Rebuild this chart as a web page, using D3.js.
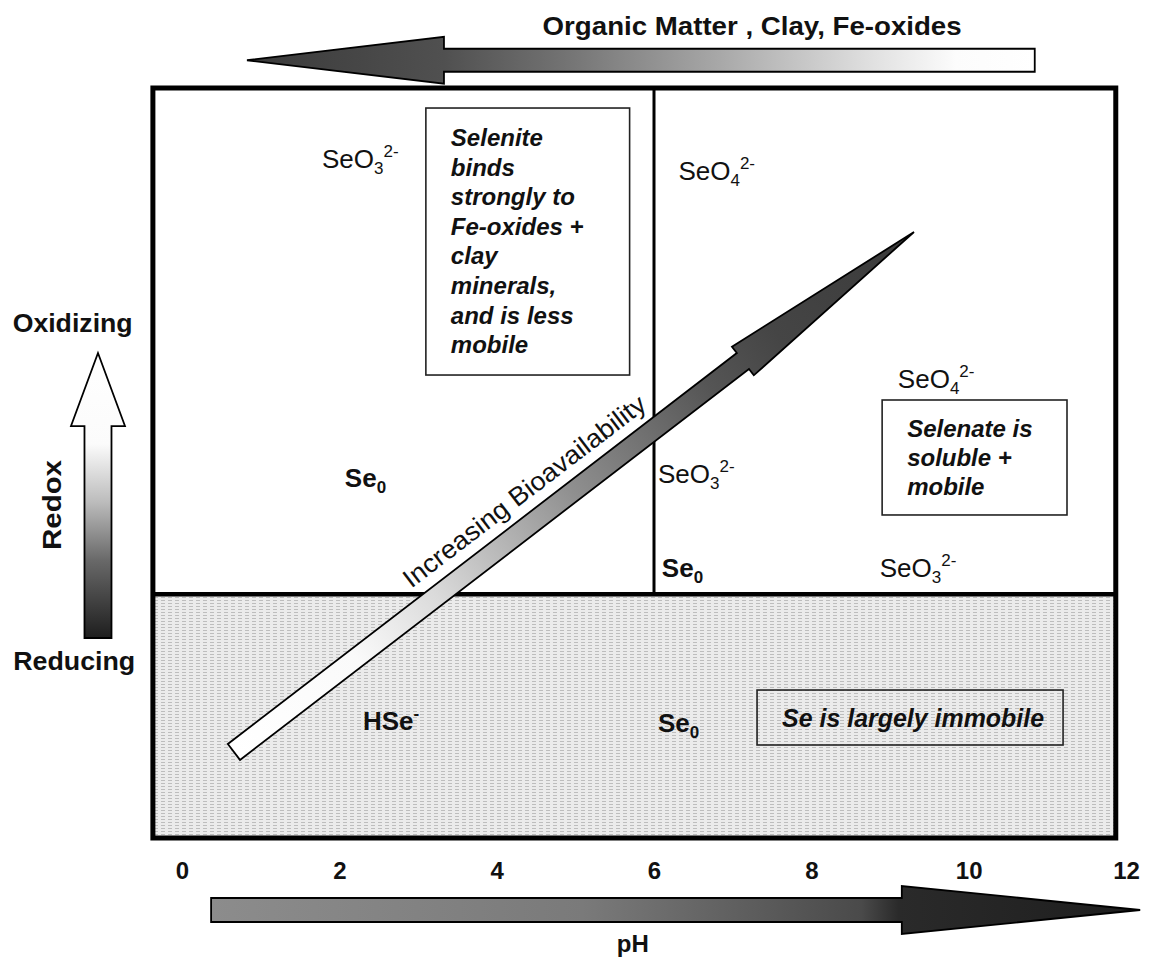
<!DOCTYPE html>
<html><head><meta charset="utf-8">
<script src="https://cdn.jsdelivr.net/npm/d3@7"></script>
<style>
html,body{margin:0;padding:0;background:#fff;}
svg text{font-family:"Liberation Sans",Arial,Helvetica,sans-serif;fill:#111;}
</style></head><body>
<svg id="chart" width="1153" height="957"></svg>
<script>
// ---------- data (pH on x, relative redox level 0-100 on y) ----------
const phTicks = [0, 2, 4, 6, 8, 10, 12];
const phDomain = [0, 12];
const redoxDomain = [0, 100];
const frameX = [-0.37, 11.87];
const frameY = [0, 100];
const dividerPH = 6;
const boundaryRedox = 32.5;
const tickRedox = -5.47;

// species labels
const speciesBase  = ["SeO", "SeO", "SeO", "Se", "SeO", "Se", "SeO", "HSe", "Se"];
const speciesSub   = ["3", "4", "4", "0", "3", "0", "3", "", "0"];
const speciesSup   = ["2-", "2-", "2-", "", "2-", "", "2-", "-", ""];
const speciesPH    = [1.78, 6.31, 9.10, 2.07, 6.05, 6.10, 8.87, 2.30, 6.05];
const speciesRedox = [89.4, 87.7, 60.0, 46.8, 47.3, 34.8, 34.8, 14.4, 14.1];
const speciesBold  = [false, false, false, true, false, true, false, true, true];

// note boxes
const noteLines = [
  ["Selenite", "binds", "strongly to", "Fe-oxides +", "clay", "minerals,", "and is less", "mobile"],
  ["Selenate is", "soluble +", "mobile"],
  ["Se is largely immobile"]
];
const notePH0 = [3.10, 8.90, 7.31];
const notePH1 = [5.69, 11.25, 11.20];
const noteRedoxTop = [97.33, 58.4, 19.73];
const noteRedoxBottom = [61.73, 43.07, 12.4];

// arrows: [tail, headBase, tip] in (pH, redox)
const arrowNames = ["organic", "ph", "redox", "bio"];
const arrowTail = [[10.84, 103.7], [0.37, -9.6], [-1.068, 26.67], [0.66, 11.47]];
const arrowHeadBase = [[3.33, 103.7], [9.15, -9.6], [-1.068, 54.93], [7.13, 63.6]];
const arrowTip = [[0.826, 103.7], [12.18, -9.6], [-1.068, 64.67], [9.305, 80.8]];

// other text
const titleText = "Organic Matter , Clay, Fe-oxides";
const titlePos = [7.247, 107.07];
const phLabel = "pH";
const phLabelPos = [5.73, -15.2];
const oxidizingPos = [-1.39, 67.5];
const reducingPos = [-1.37, 22.4];
const redoxLabelPos = [-1.65, 44.4];
const bioLabel = "Increasing Bioavailability";

// ---------- styles (gradient offsets run from tail=0 to tip=1) ----------
const arrowStyle = {
  organic: {shaftHalf: 11.5, headHalf: 23.5, stops: [[0, "#fff"], [0.1, "#fcfcfc"], [0.2, "#e2e2e2"], [0.4, "#a8a8a8"], [0.6, "#727272"], [0.75, "#505050"], [1, "#3a3a3a"]]},
  ph:      {shaftHalf: 12, headHalf: 24, stops: [[0, "#8c8c8c"], [0.4, "#7a7a7a"], [0.7, "#4a4a4a"], [0.74, "#2a2a2a"], [1, "#1e1e1e"]]},
  redox:   {shaftHalf: 13.5, headHalf: 27, stops: [[0, "#1e1e1e"], [0.27, "#686868"], [0.48, "#bdbdbd"], [0.68, "#fbfbfb"], [1, "#fff"]]},
  bio:     {shaftHalf: 10, headHalf: 18, stops: [[0, "#fff"], [0.18, "#fafafa"], [0.3, "#dadada"], [0.5, "#8f8f8f"], [0.7, "#555"], [0.8, "#454545"], [1, "#3a3a3a"]]}
};
const FS = 26, SUBFS = 17;

// ---------- drawing ----------
const svg = d3.select("#chart");
const x = d3.scaleLinear().domain(phDomain).range([182, 1126]);
const y = d3.scaleLinear().domain(redoxDomain).range([838, 88]);
const P = d => [x(d[0]), y(d[1])];
const defs = svg.append("defs");

svg.append("rect").attr("width", 1153).attr("height", 957).attr("fill", "#fff");

const pat = defs.append("pattern").attr("id", "stipple").attr("patternUnits", "userSpaceOnUse")
  .attr("width", 7).attr("height", 3);
pat.append("rect").attr("width", 7).attr("height", 3).attr("fill", "#ebebeb");
pat.append("rect").attr("width", 4).attr("height", 1).attr("fill", "#bdbdbd");

function gradient(id, p0, p1, stops) {
  const g = defs.append("linearGradient").attr("id", id).attr("gradientUnits", "userSpaceOnUse")
    .attr("x1", p0[0]).attr("y1", p0[1]).attr("x2", p1[0]).attr("y2", p1[1]);
  stops.forEach(s => g.append("stop").attr("offset", s[0]).attr("stop-color", s[1]));
}
function arrowPoints(tail, base, tip, sh, hh) {
  const dx = tip[0] - tail[0], dy = tip[1] - tail[1];
  const L = Math.hypot(dx, dy), ux = dx / L, uy = dy / L, nx = -uy, ny = ux;
  return [
    [tail[0] + nx * sh, tail[1] + ny * sh],
    [base[0] + nx * sh, base[1] + ny * sh],
    [base[0] + nx * hh, base[1] + ny * hh],
    tip,
    [base[0] - nx * hh, base[1] - ny * hh],
    [base[0] - nx * sh, base[1] - ny * sh],
    [tail[0] - nx * sh, tail[1] - ny * sh]
  ];
}

// lower (reducing) region
svg.append("rect")
  .attr("x", x(frameX[0])).attr("y", y(boundaryRedox))
  .attr("width", x(frameX[1]) - x(frameX[0])).attr("height", y(frameY[0]) - y(boundaryRedox))
  .attr("fill", "url(#stipple)");

// divider lines
svg.append("line").attr("x1", x(dividerPH)).attr("x2", x(dividerPH))
  .attr("y1", y(frameY[1])).attr("y2", y(boundaryRedox)).attr("stroke", "#000").attr("stroke-width", 3);
svg.append("line").attr("x1", x(frameX[0])).attr("x2", x(frameX[1]))
  .attr("y1", y(boundaryRedox)).attr("y2", y(boundaryRedox)).attr("stroke", "#000").attr("stroke-width", 4.5);

// frame
svg.append("rect")
  .attr("x", x(frameX[0])).attr("y", y(frameY[1]))
  .attr("width", x(frameX[1]) - x(frameX[0])).attr("height", y(frameY[0]) - y(frameY[1]))
  .attr("fill", "none").attr("stroke", "#000").attr("stroke-width", 5);

// note boxes
const boxPadX = [25, 25, 25], boxFirst = [38, 37, 37], boxLine = [29.6, 29.2, 0];
const boxFont = [24, 24, 26], boxLen = [null, null, 262];
noteLines.forEach((lines, i) => {
  const bx = x(notePH0[i]), by = y(noteRedoxTop[i]);
  svg.append("rect").attr("x", bx).attr("y", by)
    .attr("width", x(notePH1[i]) - bx).attr("height", y(noteRedoxBottom[i]) - by)
    .attr("fill", i === 2 ? "none" : "#fff").attr("stroke", "#222").attr("stroke-width", 1.6);
  lines.forEach((ln, j) => {
    const t = svg.append("text").attr("x", bx + boxPadX[i]).attr("y", by + boxFirst[i] + j * boxLine[i])
      .attr("font-size", boxFont[i]).attr("font-weight", "bold").attr("font-style", "italic").text(ln);
    if (boxLen[i]) t.attr("textLength", boxLen[i]).attr("lengthAdjust", "spacingAndGlyphs");
  });
});

// species labels
speciesBase.forEach((b, i) => {
  const t = svg.append("text").attr("x", x(speciesPH[i])).attr("y", y(speciesRedox[i]))
    .attr("font-size", FS).attr("font-weight", speciesBold[i] ? "bold" : "normal");
  t.append("tspan").text(b);
  if (speciesSub[i]) t.append("tspan").attr("font-size", SUBFS).attr("dy", 6).text(speciesSub[i]);
  if (speciesSup[i]) t.append("tspan").attr("font-size", SUBFS).attr("dy", speciesSub[i] ? -17 : -11).text(speciesSup[i]);
});

// arrows
arrowNames.forEach((nm, i) => {
  const st = arrowStyle[nm];
  const tail = P(arrowTail[i]), base = P(arrowHeadBase[i]), tip = P(arrowTip[i]);
  gradient("g_" + nm, tail, tip, st.stops);
  svg.append("polygon")
    .attr("points", arrowPoints(tail, base, tip, st.shaftHalf, st.headHalf).map(p => p.join(",")).join(" "))
    .attr("fill", "url(#g_" + nm + ")").attr("stroke", "#000").attr("stroke-width", 1.8)
    .attr("stroke-linejoin", "miter");
});

// bioavailability label along the arrow
{
  const tail = P(arrowTail[3]), tip = P(arrowTip[3]);
  const dx = tip[0] - tail[0], dy = tip[1] - tail[1], L = Math.hypot(dx, dy);
  const ux = dx / L, uy = dy / L;
  const along = 240, off = 22;
  const px = tail[0] + ux * along + uy * off, py = tail[1] + uy * along - ux * off;
  const ang = Math.atan2(uy, ux) * 180 / Math.PI;
  svg.append("text").attr("transform", `translate(${px},${py}) rotate(${ang})`)
    .attr("font-size", 26).attr("textLength", 298).attr("lengthAdjust", "spacingAndGlyphs").text(bioLabel);
}

// title
svg.append("text").attr("x", x(titlePos[0])).attr("y", y(titlePos[1])).attr("text-anchor", "middle")
  .attr("font-size", 25).attr("font-weight", "bold")
  .attr("textLength", 419).attr("lengthAdjust", "spacingAndGlyphs").text(titleText);

// redox labels
svg.append("text").attr("x", x(oxidizingPos[0])).attr("y", y(oxidizingPos[1])).attr("text-anchor", "middle")
  .attr("font-size", 25).attr("font-weight", "bold").attr("textLength", 120).attr("lengthAdjust", "spacingAndGlyphs").text("Oxidizing");
svg.append("text").attr("x", x(reducingPos[0])).attr("y", y(reducingPos[1])).attr("text-anchor", "middle")
  .attr("font-size", 25).attr("font-weight", "bold").attr("textLength", 122).attr("lengthAdjust", "spacingAndGlyphs").text("Reducing");
svg.append("text").attr("transform", `translate(${x(redoxLabelPos[0]) + 9},${y(redoxLabelPos[1])}) rotate(-90)`)
  .attr("text-anchor", "middle").attr("font-size", 25).attr("font-weight", "bold")
  .attr("textLength", 90).attr("lengthAdjust", "spacingAndGlyphs").text("Redox");

// pH axis labels
const axis = d3.axisBottom(x).tickValues(phTicks).tickSize(0).tickFormat(d3.format("d"));
const ag = svg.append("g").attr("transform", `translate(0,${y(tickRedox)})`).call(axis);
ag.select(".domain").remove();
ag.selectAll("text").attr("y", 0).attr("dy", 0).attr("font-size", 24).attr("font-weight", "bold").attr("fill", "#111");

svg.append("text").attr("x", x(phLabelPos[0])).attr("y", y(phLabelPos[1])).attr("text-anchor", "middle")
  .attr("font-size", 24).attr("font-weight", "bold").text(phLabel);
</script>
</body></html>
